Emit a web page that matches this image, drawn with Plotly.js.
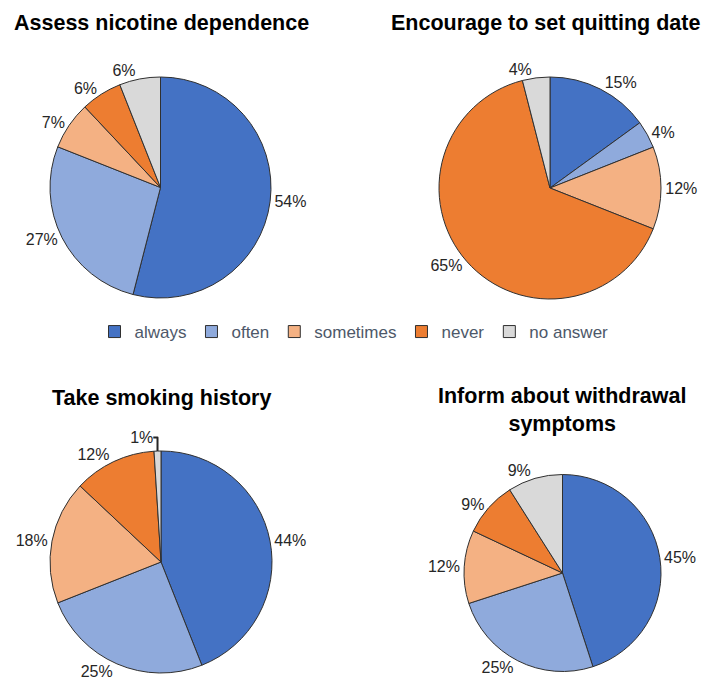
<!DOCTYPE html>
<html>
<head>
<meta charset="utf-8">
<script src="https://cdn.plot.ly/plotly-3.0.1.min.js"></script>
<style>html,body{margin:0;padding:0;background:#fff;}#chart{width:708px;height:689px;}</style>
</head>
<body>
<div id="chart"></div>
<script>
const categories = ["always", "often", "sometimes", "never", "no answer"];
const chartTitles = ["Assess nicotine dependence", "Encourage to set quitting date", "Take smoking history", "Inform about withdrawal<br>symptoms"];
const assessNicotine = [54, 27, 7, 6, 6];
const encourageQuitDate = [15, 4, 12, 65, 4];
const takeSmokingHistory = [44, 25, 18, 12, 1];
const informWithdrawal = [45, 25, 12, 9, 9];

const colors = ["#4472C4", "#8FAADC", "#F4B183", "#ED7D31", "#D9D9D9"];
const W = 708, H = 689;
function dom(cx, cy, r) {
  return {x: [(cx - r) / W, (cx + r) / W], y: [1 - (cy + r) / H, 1 - (cy - r) / H]};
}
const seriesList = [assessNicotine, encourageQuitDate, takeSmokingHistory, informWithdrawal];
const domains = [dom(160.5, 187.5, 110.5), dom(550, 188, 111), dom(161, 562, 111), dom(562.5, 573, 98.5)];

const traces = seriesList.map((vals, i) => ({
  type: "pie",
  labels: categories,
  values: vals,
  domain: domains[i],
  sort: false,
  direction: "clockwise",
  rotation: 0,
  textposition: "outside",
  texttemplate: "%{value}%",
  outsidetextfont: {family: "Liberation Sans, Arial, sans-serif", size: 16, color: "#262626"},
  marker: {colors: colors, line: {color: "#303030", width: 1}},
  hoverinfo: "label+value",
  showlegend: i === 0
}));

const titlePos = [[161, 23], [545.5, 23], [161.5, 398], [562, 410]];
const annotations = chartTitles.map((t, i) => ({
  text: "<b>" + t + "</b>",
  xref: "paper", yref: "paper",
  x: titlePos[i][0] / W, y: 1 - titlePos[i][1] / H,
  xanchor: "center", yanchor: "middle",
  showarrow: false,
  font: {family: "Liberation Sans, Arial, sans-serif", size: 21.5, color: "#000"}
}));

const layout = {
  width: W, height: H,
  margin: {l: 0, r: 0, t: 0, b: 0},
  paper_bgcolor: "#fff",
  plot_bgcolor: "#fff",
  annotations: annotations,
  legend: {
    orientation: "h",
    x: 0.5, xanchor: "center",
    y: 1 - 332 / H, yanchor: "middle",
    font: {family: "Liberation Sans, Arial, sans-serif", size: 17, color: "#4d5869"},
    traceorder: "normal",
    itemwidth: 30
  }
};

Plotly.newPlot("chart", traces, layout, {displayModeBar: false, staticPlot: true});
</script>
</body>
</html>
